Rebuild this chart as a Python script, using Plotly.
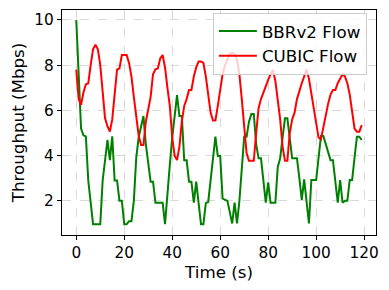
import plotly.graph_objects as go

time_s = list(range(120))

bbrv2_flow = [
    10.0, 7.3, 5.2, 4.9, 4.85, 2.9, 1.9, 0.97, 0.97, 0.97,
    0.97, 2.9, 3.9, 4.7, 3.8, 4.85, 2.9, 2.9, 2.0, 2.0,
    0.97, 0.97, 1.1, 1.1, 2.0, 3.9, 4.8, 5.3, 5.75, 4.5,
    3.6, 2.85, 2.85, 1.92, 1.92, 1.92, 1.92, 0.97, 2.4, 3.6,
    4.8, 5.8, 6.68, 5.75, 5.75, 3.8, 3.8, 2.85, 2.85, 1.92,
    2.85, 1.9, 0.97, 0.97, 1.9, 1.95, 2.9, 3.9, 4.84, 3.98,
    3.98, 2.1, 2.05, 2.0, 1.5, 1.0, 1.92, 1.0, 2.0, 3.4,
    4.84, 4.84, 5.5, 5.84, 5.84, 4.5, 3.88, 3.88, 2.9, 1.92,
    2.82, 1.92, 1.92, 1.92, 3.5, 3.88, 4.8, 5.65, 5.65, 4.7,
    3.88, 3.88, 3.88, 3.0, 2.04, 2.95, 1.92, 1.0, 2.92, 2.92,
    2.92, 3.9, 4.87, 4.87, 4.5, 4.07, 3.8, 3.8, 2.92, 1.92,
    2.92, 1.92, 2.0, 2.0, 2.92, 2.92, 3.9, 4.84, 4.84, 4.69,
]

cubic_flow = [
    7.8, 6.5, 6.25, 6.8, 7.15, 7.2, 8.0, 8.7, 8.9, 8.7,
    8.0, 6.9, 5.65, 5.3, 5.06, 5.6, 6.7, 7.8, 7.86, 8.45,
    8.45, 8.45, 8.1, 7.5, 6.6, 5.7, 4.9, 4.47, 4.47, 5.5,
    6.1, 6.6, 7.6, 7.82, 7.85, 8.3, 8.45, 7.9, 7.0, 6.2,
    4.8, 4.0, 3.8, 4.4, 5.5, 6.2, 6.5, 6.9, 6.9, 7.5,
    7.9, 8.16, 8.16, 8.1, 7.5, 6.6, 5.9, 5.55, 5.55, 6.2,
    7.0, 7.6, 8.0, 8.3, 8.5, 8.55, 8.5, 8.23, 7.6, 6.5,
    5.2, 4.1, 3.77, 3.77, 3.77, 5.0, 6.1, 6.5, 6.8, 7.1,
    7.35, 7.6, 7.79, 7.3, 6.5, 5.6, 4.4, 3.77, 3.77, 5.0,
    5.6, 5.9, 6.5, 6.9, 7.2, 7.5, 7.82, 7.4, 6.7, 6.1,
    5.3, 4.8, 4.72, 5.3, 5.7, 6.3, 6.7, 6.9, 6.9, 7.2,
    7.4, 7.6, 7.5, 7.2, 6.7, 6.0, 5.2, 5.06, 5.06, 5.35,
]

x_ticks = [0, 20, 40, 60, 80, 100, 120]
y_ticks = [2, 4, 6, 8, 10]

FONT = "DejaVu Sans"
TICK_SIZE = 15.3
LABEL_SIZE = 16.7

fig = go.Figure()
fig.add_trace(go.Scatter(x=time_s, y=bbrv2_flow, mode="lines", name="BBRv2 Flow",
                         line=dict(color="green", width=2)))
fig.add_trace(go.Scatter(x=time_s, y=cubic_flow, mode="lines", name="CUBIC Flow",
                         line=dict(color="red", width=2)))

axis_common = dict(
    showline=True, linecolor="#000000", linewidth=1.2, mirror=True,
    ticks="outside", ticklen=4, tickcolor="#000000", tickwidth=1.2,
    showgrid=True, gridcolor="#d9d9d9", gridwidth=1, griddash="dash",
    zeroline=False, automargin=False,
    tickfont=dict(family=FONT, size=TICK_SIZE, color="black"),
)

fig.update_layout(
    template="none",
    width=381, height=282,
    margin=dict(l=54, r=13, t=2, b=55),
    paper_bgcolor="white", plot_bgcolor="white",
    font=dict(family=FONT, size=LABEL_SIZE, color="black"),
    showlegend=True,
    legend=dict(x=0.971, y=0.988, xanchor="right", yanchor="top",
                bgcolor="rgba(255,255,255,0.8)", bordercolor="#cccccc", borderwidth=1,
                font=dict(family=FONT, size=LABEL_SIZE, color="black"),
                tracegroupgap=0, itemwidth=38),
    xaxis=dict(range=[-5.95, 124.95], tickvals=x_ticks,
               title=dict(text="Time (s)", font=dict(family=FONT, size=LABEL_SIZE), standoff=4),
               **axis_common),
    yaxis=dict(range=[0.49, 10.44], tickvals=y_ticks,
               title=dict(text="Throughput (Mbps)", font=dict(family=FONT, size=LABEL_SIZE), standoff=6),
               **axis_common),
)

fig.write_html("out.html")
